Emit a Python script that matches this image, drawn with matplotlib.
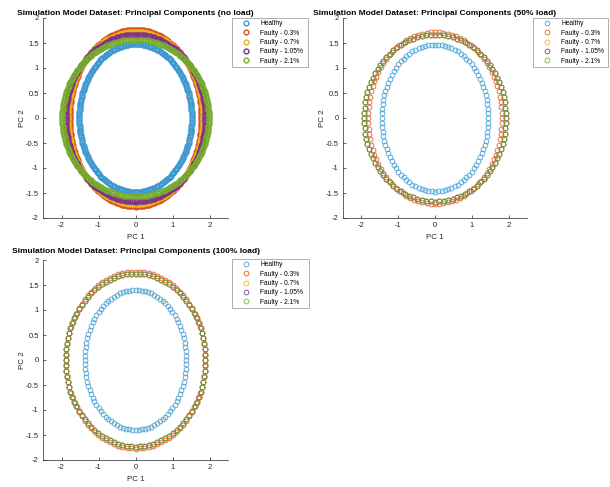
import matplotlib

matplotlib.use("Agg")
import matplotlib.pyplot as plt
import numpy as np

plt.rcParams["font.family"] = ["Liberation Sans", "DejaVu Sans"]

# class labels and MATLAB default colours
series_labels = ["Healthy", "Faulty - 0.3%", "Faulty - 0.7%", "Faulty - 1.05%", "Faulty - 2.1%"]
series_colors = ["#3d9ad1", "#d95319", "#edb120", "#7e2f8e", "#77ac30"]

panel_titles = [
    "Simulation Model Dataset: Principal Components (no load)",
    "Simulation Model Dataset: Principal Components (50% load)",
    "Simulation Model Dataset: Principal Components (100% load)",
]

# semi-axes of each PC1/PC2 ring (one row per panel)
pc1_radius = [
    [1.52, 1.78, 1.83, 1.89, 1.98],
    [1.45, 1.82, 1.93, 1.93, 1.93],
    [1.37, 1.88, 1.89, 1.89, 1.89],
]
pc2_radius = [
    [1.48, 1.77, 1.72, 1.67, 1.57],
    [1.47, 1.72, 1.67, 1.67, 1.67],
    [1.40, 1.77, 1.73, 1.73, 1.73],
]
points_per_ring = [240, 100, 100]

x_ticks = [-2, -1, 0, 1, 2]
y_ticks = [-2, -1.5, -1, -0.5, 0, 0.5, 1, 1.5, 2]

# axes boxes in pixels: left, top, width, height
axes_px = [(43, 18, 185, 200), (343, 18, 184, 200), (43, 260, 185, 200)]
legend_px = [(232, 18, 76, 49), (533, 18, 75, 50), (232, 259, 77, 50)]
title_pad = [2.2, 2.2, 5.0]

W, H = 610, 487


def draw_panel(ax, k):
    n = points_per_ring[k]
    theta = np.linspace(0, 2 * np.pi, n, endpoint=False)
    for i, label in enumerate(series_labels):
        ax.plot(
            pc1_radius[k][i] * np.cos(theta),
            pc2_radius[k][i] * np.sin(theta),
            linestyle="none",
            marker="o",
            markersize=3.5,
            markerfacecolor="none",
            markeredgecolor=series_colors[i],
            markeredgewidth=1.0 if k == 0 else 0.55,
            label=label,
        )

    ax.set_xlim(-2.5, 2.5)
    ax.set_ylim(-2, 2)
    ax.set_xticks(x_ticks)
    ax.set_xticklabels([f"{v:g}" for v in x_ticks])
    ax.set_yticks(y_ticks)
    ax.set_yticklabels([f"{v:g}" for v in y_ticks])
    ax.tick_params(direction="in", length=2, width=0.5, labelsize=5.5,
                   colors="#262626", pad=3)
    for side in ("top", "right"):
        ax.spines[side].set_visible(False)
    for side in ("left", "bottom"):
        ax.spines[side].set_linewidth(0.5)
        ax.spines[side].set_color("#262626")
    ax.set_xlabel("PC 1", fontsize=5.8, color="#262626", labelpad=3.5)
    ax.set_ylabel("PC 2", fontsize=5.8, color="#262626", labelpad=0)
    ax.set_title(panel_titles[k], fontsize=6.0, fontweight="bold", pad=title_pad[k])

    lx, ly, lw, lh = legend_px[k]
    leg = ax.legend(
        loc="upper left",
        bbox_to_anchor=(lx / W, 1 - (ly + lh) / H, lw / W, lh / H),
        bbox_transform=ax.figure.transFigure,
        mode="expand",
        fontsize=4.8,
        numpoints=1,
        handlelength=3.6,
        handletextpad=0.3,
        labelspacing=0.35,
        borderpad=0.35,
        borderaxespad=0,
        frameon=True,
        fancybox=False,
    )
    leg.get_frame().set_edgecolor("#8c8c8c")
    leg.get_frame().set_linewidth(0.6)


fig = plt.figure(figsize=(W / 100, H / 100), dpi=100)
for k, (x0, y0, w, h) in enumerate(axes_px):
    ax = fig.add_axes([x0 / W, 1 - (y0 + h) / H, w / W, h / H])
    draw_panel(ax, k)

fig.savefig("out.png", dpi=100)
